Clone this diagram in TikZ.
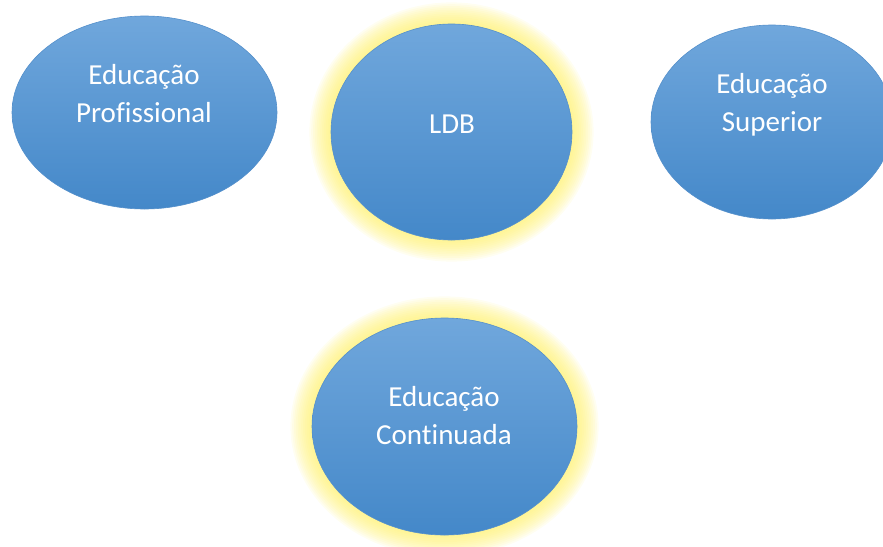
\documentclass[tikz,border=0pt]{standalone}
\usepackage{fontspec}
\setmainfont{Carlito}[Ligatures=NoCommon]
\usepackage{xcolor}
\usetikzlibrary{shapes.geometric}
\definecolor{topblue}{HTML}{70A7DC}
\definecolor{botblue}{HTML}{4488C9}
\definecolor{rimblue}{HTML}{5590CB}
\definecolor{glowyellow}{HTML}{FFF066}
\tikzset{
  bubble/.style={ellipse, draw=rimblue, line width=0.6pt, inner sep=0pt,
    top color=topblue, bottom color=botblue},
  caption/.style={text=white, font=\fontsize{29}{38}\selectfont, align=center}
}

\begin{document}
\begin{tikzpicture}[x=1pt,y=-1pt]
  \useasboundingbox (0,0) rectangle (883,546);

  % Yellow glow behind the two highlighted ellipses
  \foreach \cx/\cy/\rx/\ry in {451.5/132/120.5/108, 444.5/426.5/132.5/108.5} {
    \foreach \g in {1,...,12} {
      \fill[glowyellow, opacity=0.09] (\cx,\cy) ellipse ({\rx+1.8*\g} and {\ry+1.8*\g});
    }
  }

  % Top left
  \node[bubble, minimum width=265pt, minimum height=193pt] (prof) at (144.5,112.5) {};
  \node[caption] (proftext) at (144,94) {Educação\\Profissional};

  % Top middle
  \node[bubble, minimum width=241pt, minimum height=216pt] (ldb) at (451.5,132) {};
  \node[caption] (ldbtext) at (452,124) {LDB};

  % Top right
  \node[bubble, minimum width=242pt, minimum height=194pt] (sup) at (772,122) {};
  \node[caption] (suptext) at (772,104.5) {Educação\\Superior};

  % Bottom
  \node[bubble, minimum width=265pt, minimum height=217pt] (cont) at (444.5,426.5) {};
  \node[caption] (conttext) at (444,416) {Educação\\Continuada};

\end{tikzpicture}
\end{document}
